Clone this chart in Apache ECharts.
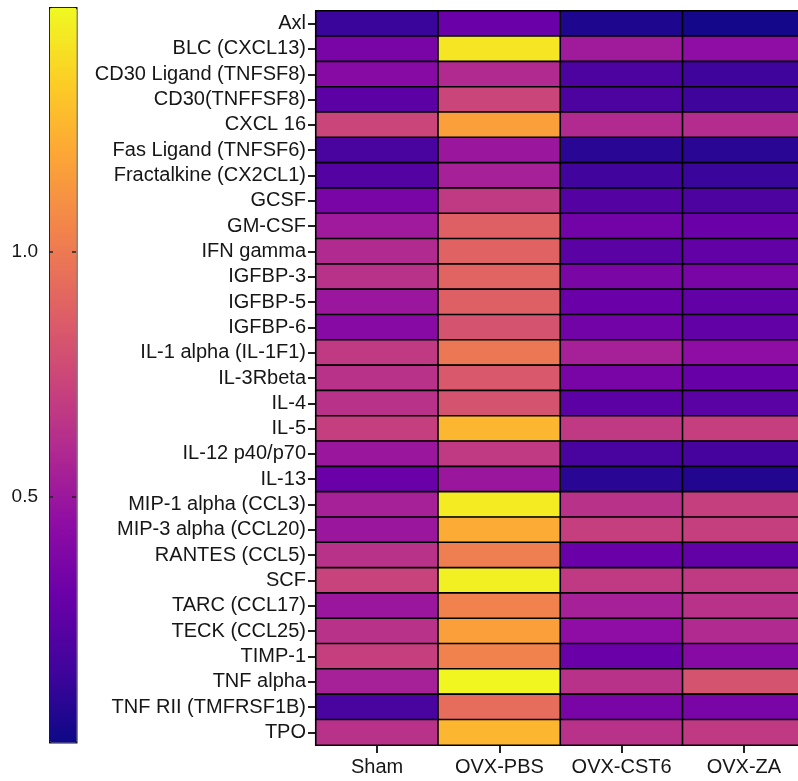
<!DOCTYPE html>
<html>
<head>
<meta charset="utf-8">
<script src="https://cdn.jsdelivr.net/npm/echarts@6/dist/echarts.min.js"></script>
<style>
  html, body { margin: 0; padding: 0; background: #fff; }
  #chart { width: 798px; height: 781px; }
</style>
</head>
<body>
<div id="chart"></div>
<script>
// cytokines, top to bottom
var cytokines = ['Axl', 'BLC (CXCL13)', 'CD30 Ligand (TNFSF8)', 'CD30(TNFFSF8)', 'CXCL 16',
    'Fas Ligand (TNFSF6)', 'Fractalkine (CX2CL1)', 'GCSF', 'GM-CSF', 'IFN gamma',
    'IGFBP-3', 'IGFBP-5', 'IGFBP-6', 'IL-1 alpha (IL-1F1)', 'IL-3Rbeta', 'IL-4', 'IL-5',
    'IL-12 p40/p70', 'IL-13', 'MIP-1 alpha (CCL3)', 'MIP-3 alpha (CCL20)', 'RANTES (CCL5)',
    'SCF', 'TARC (CCL17)', 'TECK (CCL25)', 'TIMP-1', 'TNF alpha', 'TNF RII (TMFRSF1B)', 'TPO'];
var groups = ['Sham', 'OVX-PBS', 'OVX-CST6', 'OVX-ZA'];

var sham    = [0.13, 0.36, 0.42, 0.25, 0.74, 0.18, 0.22, 0.36, 0.52, 0.60,
               0.64, 0.50, 0.42, 0.68, 0.64, 0.64, 0.71, 0.50, 0.30, 0.55,
               0.50, 0.64, 0.73, 0.50, 0.64, 0.71, 0.55, 0.18, 0.64];
var ovxPbs  = [0.30, 1.43, 0.60, 0.74, 1.17, 0.50, 0.55, 0.68, 0.88, 0.89,
               0.90, 0.88, 0.81, 0.99, 0.84, 0.81, 1.26, 0.68, 0.50, 1.45,
               1.22, 1.02, 1.47, 1.04, 1.17, 1.04, 1.49, 0.94, 1.26];
var ovxCst6 = [0.05, 0.52, 0.19, 0.19, 0.60, 0.08, 0.15, 0.22, 0.33, 0.24,
               0.37, 0.30, 0.33, 0.55, 0.36, 0.25, 0.68, 0.18, 0.08, 0.64,
               0.71, 0.30, 0.68, 0.55, 0.45, 0.30, 0.64, 0.36, 0.64];
var ovxZa   = [0.02, 0.45, 0.14, 0.14, 0.61, 0.08, 0.13, 0.19, 0.30, 0.27,
               0.36, 0.27, 0.27, 0.45, 0.29, 0.24, 0.71, 0.17, 0.06, 0.71,
               0.71, 0.27, 0.68, 0.64, 0.60, 0.42, 0.81, 0.36, 0.68];

var scaleMin = 0;
var scaleMax = 1.5;
var scaleTicks = [0.5, 1.0];

var plasma = ['#0d0887', '#41049d', '#6a00a8', '#8f0da4', '#b12a90', '#cc4778',
              '#e16462', '#f2844b', '#fca636', '#fcce25', '#f0f921'];

var columns = [sham, ovxPbs, ovxCst6, ovxZa];
var cells = [];
for (var g = 0; g < columns.length; g++) {
    for (var r = 0; r < cytokines.length; r++) {
        cells.push([g, r, columns[g][r]]);
    }
}

var textColor = '#161616';
var font = 'Liberation Sans, Arial, sans-serif';

var myChart = echarts.init(document.getElementById('chart'));
var option = {
    animation: false,
    grid: [
        // heatmap runs a little past the right edge, as in the original crop
        { left: 316, top: 11, width: 489, height: 734, outerBoundsMode: 'none', containLabel: false },
        { left: 49, top: 7, width: 27, height: 735, outerBoundsMode: 'none', containLabel: false }
    ],
    xAxis: [
        {
            type: 'category',
            gridIndex: 0,
            data: groups,
            position: 'bottom',
            axisLine: { show: true, lineStyle: { color: '#000', width: 1.5 } },
            axisTick: { show: true, alignWithLabel: true, length: 8, lineStyle: { color: '#222', width: 2 } },
            axisLabel: { interval: 0, color: textColor, fontSize: 20, fontFamily: font, margin: 12 },
            splitLine: { show: false }
        },
        { type: 'value', gridIndex: 1, show: false, min: 0, max: 1 }
    ],
    yAxis: [
        {
            type: 'category',
            gridIndex: 0,
            data: cytokines,
            inverse: true,
            axisLine: { show: false },
            axisTick: { show: true, alignWithLabel: true, length: 8, lineStyle: { color: '#222', width: 2 } },
            axisLabel: { interval: 0, color: textColor, fontSize: 20, fontFamily: font, margin: 10 },
            splitLine: { show: false }
        },
        {
            type: 'value',
            gridIndex: 1,
            min: scaleMin,
            max: scaleMax,
            interval: 0.5,
            z: 10,
            axisLine: { show: false },
            axisTick: { show: true, inside: true, length: 4, customValues: scaleTicks, lineStyle: { color: '#222', width: 1.5 } },
            axisLabel: {
                color: textColor, fontSize: 19, fontFamily: font, margin: 11,
                customValues: scaleTicks,
                formatter: function (v) { return v.toFixed(1); }
            },
            splitLine: { show: false }
        },
        {
            type: 'value',
            gridIndex: 1,
            position: 'right',
            min: scaleMin,
            max: scaleMax,
            interval: 0.5,
            z: 10,
            axisLine: { show: false },
            axisTick: { show: true, inside: true, length: 4, customValues: scaleTicks, lineStyle: { color: '#222', width: 1.5 } },
            axisLabel: { show: false },
            splitLine: { show: false }
        }
    ],
    visualMap: {
        type: 'continuous',
        seriesIndex: 0,
        min: scaleMin,
        max: scaleMax,
        calculable: false,
        left: 49,
        top: 7,
        itemWidth: 27,
        itemHeight: 735,
        padding: 0,
        borderWidth: 1.5,
        borderColor: '#111',
        inRange: { color: plasma }
    },
    series: [
        {
            type: 'heatmap',
            xAxisIndex: 0,
            yAxisIndex: 0,
            data: cells,
            itemStyle: { borderColor: '#000', borderWidth: 1.6 },
            emphasis: { disabled: true }
        }
    ]
};
myChart.setOption(option);
</script>
</body>
</html>
